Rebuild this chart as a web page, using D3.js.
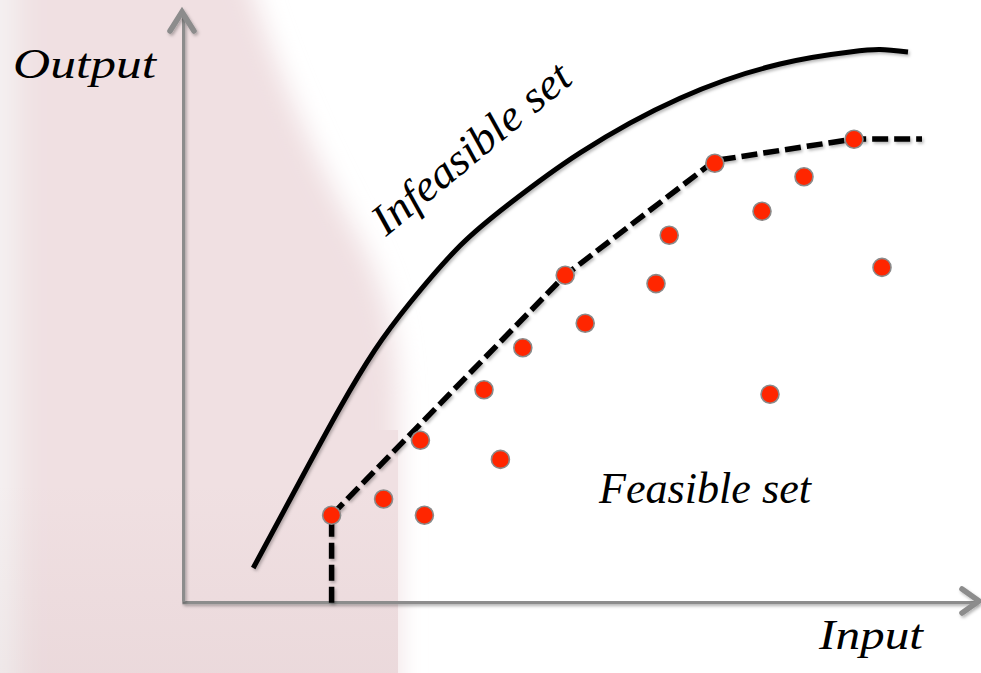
<!DOCTYPE html>
<html>
<head>
<meta charset="utf-8">
<script src="https://cdn.jsdelivr.net/npm/d3@7"></script>
<style>
  html, body { margin: 0; padding: 0; background: #ffffff; }
  svg { display: block; }
</style>
</head>
<body>
<svg id="chart" width="981" height="673"></svg>
<script>
// ---- data (arbitrary units: input 0..100, output 0..100) ----
const curveX = [8.9, 14.75, 19.75, 24.1, 28.5, 34.75, 41.0, 49.75, 62.25, 74.75, 83.5, 87.25, 90.75];
const curveY = [5.5, 20.0, 32.2, 41.8, 49.7, 59.2, 66.3, 74.7, 83.8, 89.5, 91.5, 91.9, 91.5];

const frontierX = [18.7, 18.7, 47.9, 66.6, 84.0, 92.5];
const frontierY = [-0.3, 14.3, 54.3, 73.4, 77.0, 77.0];

const pointX = [18.7, 25.2, 30.3, 29.8, 39.8, 37.75, 42.6, 47.9, 50.4, 59.25, 60.9, 66.6, 72.5, 77.75, 84.0, 87.5, 73.5];
const pointY = [14.3, 17.0, 14.3, 26.8, 23.6, 35.2, 42.2, 54.3, 46.3, 52.9, 60.95, 72.95, 64.95, 70.7, 76.95, 55.6, 34.45];

const axisLabels = ["Input", "Output"];
const regionLabels = ["Infeasible set", "Feasible set"];

// ---- setup ----
const W = 981, H = 673;
const svg = d3.select("#chart");
const x = d3.scaleLinear().domain([0, 100]).range([182, 982]);
const y = d3.scaleLinear().domain([0, 100]).range([601, 1]);

const defs = svg.append("defs");
const bg = defs.append("linearGradient").attr("id", "bgH")
  .attr("gradientUnits", "userSpaceOnUse").attr("x1", 0).attr("y1", 0).attr("x2", 40).attr("y2", 0);
bg.append("stop").attr("offset", 0).attr("stop-color", "#f5f3f3");
bg.append("stop").attr("offset", 0.75).attr("stop-color", "#f0e0e2");
bg.append("stop").attr("offset", 1).attr("stop-color", "#f0e0e2");

const shade = defs.append("linearGradient").attr("id", "bgV")
  .attr("gradientUnits", "userSpaceOnUse").attr("x1", 0).attr("y1", 480).attr("x2", 0).attr("y2", 673);
shade.append("stop").attr("offset", 0).attr("stop-color", "#8a5a60").attr("stop-opacity", 0);
shade.append("stop").attr("offset", 1).attr("stop-color", "#8a5a60").attr("stop-opacity", 0.05);

defs.append("filter").attr("id", "blur").attr("x", "-50%").attr("y", "-50%").attr("width", "200%").attr("height", "200%")
  .append("feGaussianBlur").attr("stdDeviation", 13);

const sh = defs.append("filter").attr("id", "shadow").attr("filterUnits", "userSpaceOnUse")
  .attr("x", 0).attr("y", 0).attr("width", W).attr("height", H);
sh.append("feDropShadow").attr("dx", 1.5).attr("dy", 2).attr("stdDeviation", 1.5)
  .attr("flood-color", "#000").attr("flood-opacity", 0.28);

// ---- background ----
svg.append("rect").attr("width", W).attr("height", H).attr("fill", "#ffffff");
svg.append("path")
  .attr("d", "M-40,-60 L238,-60 C 265,50 318,165 360,240 C 386,290 398,340 398,400 L398,720 L-40,720 Z")
  .attr("fill", "url(#bgH)").attr("filter", "url(#blur)");
svg.append("rect").attr("x", 200).attr("y", 430).attr("width", 198).attr("height", 250).attr("fill", "#f0e0e2");
svg.append("rect").attr("x", 0).attr("y", 480).attr("width", 398).attr("height", 200).attr("fill", "url(#bgV)");

// ---- axes ----
const axisColor = "#8c8c8c";
const gx = svg.append("g").attr("transform", `translate(0,${y(0)})`).attr("filter", "url(#shadow)")
  .call(d3.axisBottom(x.copy().range([x(0), 976])).tickValues([]).tickSizeOuter(0));
const gy = svg.append("g").attr("transform", `translate(${x(0)},0)`).attr("filter", "url(#shadow)")
  .call(d3.axisLeft(y.copy().range([y(0), 13])).tickValues([]).tickSizeOuter(0));
[gx, gy].forEach(g => g.select(".domain").attr("stroke", axisColor).attr("stroke-width", 5.5).attr("stroke-linecap", "butt"));

// arrowheads
svg.append("path")
  .attr("d", `M962,${y(0) - 12} L979,${y(0)} L962,${y(0) + 12}`)
  .attr("fill", "none").attr("stroke", axisColor).attr("stroke-width", 5.5)
  .attr("stroke-linecap", "round").attr("stroke-linejoin", "miter").attr("filter", "url(#shadow)");
svg.append("path")
  .attr("d", `M${x(0) - 12},31 L${x(0)},12 L${x(0) + 12},31`)
  .attr("fill", "none").attr("stroke", axisColor).attr("stroke-width", 5.5)
  .attr("stroke-linecap", "round").attr("stroke-linejoin", "miter").attr("filter", "url(#shadow)");

// ---- boundary curve ----
const curveData = curveX.map((d, i) => [d, curveY[i]]);
svg.append("path")
  .datum(curveData)
  .attr("d", d3.line().x(d => x(d[0])).y(d => y(d[1])).curve(d3.curveNatural))
  .attr("fill", "none").attr("stroke", "#000").attr("stroke-width", 5)
  .attr("filter", "url(#shadow)");

// ---- frontier (dashed) ----
const frontierData = frontierX.map((d, i) => [d, frontierY[i]]);
svg.append("path")
  .datum(frontierData)
  .attr("d", d3.line().x(d => x(d[0])).y(d => y(d[1])))
  .attr("fill", "none").attr("stroke", "#000").attr("stroke-width", 5.5)
  .attr("stroke-dasharray", "16,6").attr("stroke-linejoin", "round")
  .attr("filter", "url(#shadow)");

// ---- points ----
const pts = pointX.map((d, i) => [d, pointY[i]]);
svg.append("g").selectAll("circle").data(pts).join("circle")
  .attr("cx", d => x(d[0])).attr("cy", d => y(d[1])).attr("r", 9)
  .attr("fill", "#ff2600").attr("stroke", "#8a8a8a").attr("stroke-width", 1.6);

// ---- labels ----
const font = "'Liberation Serif', 'Times New Roman', serif";
svg.append("text").text(axisLabels[1])
  .attr("x", 13).attr("y", 78)
  .attr("font-family", font).attr("font-style", "italic").attr("font-size", 42)
  .attr("textLength", 143).attr("lengthAdjust", "spacingAndGlyphs").attr("fill", "#000");
svg.append("text").text(axisLabels[0])
  .attr("x", 819).attr("y", 649)
  .attr("font-family", font).attr("font-style", "italic").attr("font-size", 42)
  .attr("textLength", 104).attr("lengthAdjust", "spacingAndGlyphs").attr("fill", "#000");
svg.append("text").text(regionLabels[1])
  .attr("x", 599).attr("y", 503)
  .attr("font-family", font).attr("font-style", "italic").attr("font-size", 44)
  .attr("textLength", 212).attr("lengthAdjust", "spacingAndGlyphs").attr("fill", "#000");
svg.append("text").text(regionLabels[0])
  .attr("transform", "translate(386,237) rotate(-39.5)")
  .attr("font-family", font).attr("font-style", "italic").attr("font-size", 44)
  .attr("textLength", 244).attr("lengthAdjust", "spacingAndGlyphs").attr("fill", "#000");
</script>
</body>
</html>
